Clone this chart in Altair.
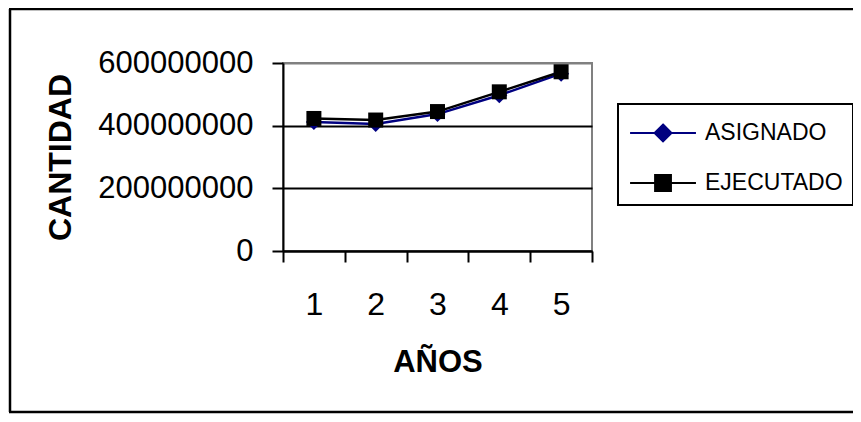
import altair as alt
import pandas as pd

# ---- data ----
years = ["1", "2", "3", "4", "5"]
asignado = [412000000, 405000000, 437000000, 497000000, 566000000]
ejecutado = [423000000, 418000000, 445000000, 508000000, 572000000]
series_names = ["ASIGNADO", "EJECUTADO"]
series_colors = ["#000080", "#000000"]
y_ticks = [0, 200000000, 400000000, 600000000]

rows = []
for name, vals in zip(series_names, [asignado, ejecutado]):
    for yr, v in zip(years, vals):
        rows.append({"AÑO": yr, "CANTIDAD": v, "SERIE": name})
df = pd.DataFrame(rows)

W, H = 309, 188
PL, PT = 275, 55
PR = 845 - W - PL
PB = 406 - H - PT
FONT = "Liberation Sans"

x_enc = alt.X(
    "AÑO:O",
    bandPosition=0.5,
    scale=alt.Scale(type="band", domain=years, paddingInner=0, paddingOuter=0),
    axis=alt.Axis(
        title="AÑOS", tickBand="extent", labelAngle=0, labelFontSize=32,
        tickSize=11, labelPadding=27, titleFontSize=31, titlePadding=27,
        grid=False,
    ),
)
y_enc = alt.Y(
    "CANTIDAD:Q",
    scale=alt.Scale(domain=[0, 600000000], nice=False),
    axis=alt.Axis(
        values=y_ticks, format="d", title="CANTIDAD", titleFontSize=32,
        labelFontSize=31, tickSize=11, labelPadding=19, titlePadding=20,
        grid=True, gridWidth=2,
        gridColor={"condition": {"test": "datum.value >= 600000000", "value": "#808080"}, "value": "black"},
    ),
)

base = alt.Chart(df)
asig = base.transform_filter(alt.datum.SERIE == "ASIGNADO")
ejec = base.transform_filter(alt.datum.SERIE == "EJECUTADO")

line_a = asig.mark_line(strokeWidth=2.5, color="#000080").encode(x=x_enc, y=y_enc)
line_e = ejec.mark_line(strokeWidth=2.5, color="#000000").encode(x=x_enc, y=y_enc)

diamonds = asig.mark_point(
    shape="diamond", filled=True, size=256, color="#000080", opacity=1
).encode(x=x_enc, y=y_enc)

squares = ejec.mark_point(
    shape="square", filled=True, size=225, color="#000000", opacity=1
).encode(x=x_enc, y=y_enc)

# legend symbols: a line with the marker in its middle
path_a = "M-0.94,0H2.72M0.89,-0.47L1.36,0L0.89,0.47L0.42,0Z"
path_e = "M-0.94,0H2.72M0.45,-0.44H1.33V0.44H0.45Z"

leg = alt.Legend(
    title=None, orient="none", legendX=335, legendY=41, padding=10,
    strokeColor="black", fillColor="white", symbolSize=1296,
    symbolStrokeWidth=2, labelFontSize=23, labelFont=FONT, labelOffset=39,
    labelColor="black", rowPadding=18, symbolOpacity=1,
)

legend_layer = base.transform_filter("datum.CANTIDAD < 0").mark_point(filled=False).encode(
    x=x_enc, y=y_enc,
    shape=alt.Shape("SERIE:N", scale=alt.Scale(domain=series_names, range=[path_a, path_e]), legend=leg),
    fill=alt.Fill("SERIE:N", scale=alt.Scale(domain=series_names, range=series_colors), legend=leg),
    stroke=alt.Stroke("SERIE:N", scale=alt.Scale(domain=series_names, range=series_colors), legend=leg),
)

frame = alt.Data(values=[{"k": 0}])
left_b = alt.Chart(frame).mark_rule(color="black", strokeWidth=2.5).encode(
    x=alt.value(-273), y=alt.value(-54), y2=alt.value(349))
top_b = alt.Chart(frame).mark_rule(color="black", strokeWidth=2.5).encode(
    x=alt.value(-274), x2=alt.value(600), y=alt.value(-54))
bot_b = alt.Chart(frame).mark_rule(color="black", strokeWidth=2.5).encode(
    x=alt.value(-274), x2=alt.value(600), y=alt.value(349))

chart = alt.layer(line_a, line_e, diamonds, squares, legend_layer, left_b, top_b, bot_b).properties(
    width=W, height=H,
    autosize=alt.AutoSizeParams(type="none"),
    padding={"left": PL, "top": PT, "right": PR, "bottom": PB},
    background="white",
).configure_view(
    stroke="#808080", strokeWidth=2,
).configure_axis(
    domainColor="black", domainWidth=2, tickColor="black", tickWidth=2,
    labelColor="black", titleColor="black", labelFont=FONT, titleFont=FONT,
    titleFontWeight="bold",
).configure_legend(
    strokeWidth=2,
)

chart.save("out.html", embed_options={"renderer": "svg", "actions": False})
